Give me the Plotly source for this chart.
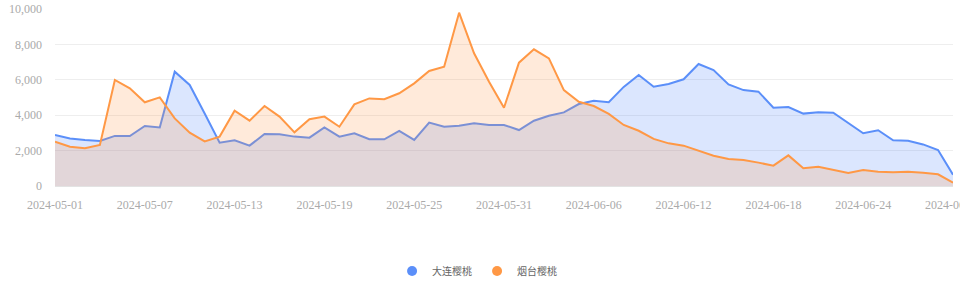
import pandas as pd
import plotly.graph_objects as go

dates = pd.date_range("2024-05-01", "2024-06-30", freq="D").strftime("%Y-%m-%d").tolist()

dalian = [2880, 2690, 2600, 2540, 2830, 2820, 3390, 3310, 6460, 5710,
          4100, 2450, 2580, 2280, 2940, 2920, 2790, 2730, 3310, 2790,
          2980, 2640, 2640, 3110, 2600, 3580, 3350, 3410, 3540, 3450,
          3450, 3160, 3690, 3970, 4160, 4630, 4820, 4730, 5600, 6270,
          5610, 5760, 6030, 6890, 6550, 5740, 5420, 5330, 4420, 4460,
          4090, 4160, 4140, 3540, 2980, 3150, 2580, 2560, 2350, 2030,
          640]

yantai = [2500, 2220, 2130, 2320, 5990, 5520, 4730, 5010, 3820, 3010,
          2520, 2790, 4250, 3690, 4520, 3920, 3030, 3770, 3920, 3350,
          4610, 4950, 4900, 5240, 5800, 6500, 6740, 9790, 7500, 5890,
          4420, 6970, 7720, 7210, 5420, 4760, 4520, 4070, 3450, 3120,
          2660, 2410, 2280, 1990, 1710, 1530, 1470, 1320, 1150, 1730,
          1000, 1090, 900, 730, 900, 810, 770, 800, 750, 660,
          190]

series_names = ["大连樱桃", "烟台樱桃"]
tick_dates = dates[::6]
y_ticks = [0, 2000, 4000, 6000, 8000, 10000]

BLUE = "#5B8FF9"
ORANGE = "#FF9845"

fig = go.Figure()
for name, vals, col, fill in [
    (series_names[0], dalian, BLUE, "rgba(91,143,249,0.22)"),
    (series_names[1], yantai, ORANGE, "rgba(255,152,69,0.2)"),
]:
    fig.add_trace(go.Scatter(
        x=dates, y=vals, mode="lines", name=name,
        line=dict(color=col, width=2),
        fill="tozeroy", fillcolor=fill,
        showlegend=False, hoverinfo="x+y+name",
    ))
for name, col in [(series_names[0], BLUE), (series_names[1], ORANGE)]:
    fig.add_trace(go.Scatter(
        x=[None], y=[None], mode="markers", name=name,
        marker=dict(symbol="circle", size=10, color=col),
    ))

fig.update_layout(
    width=960, height=282,
    margin=dict(l=55, r=7, t=9, b=96, autoexpand=False),
    paper_bgcolor="white", plot_bgcolor="white",
    showlegend=True,
    legend=dict(
        orientation="h", x=0.47, xanchor="center",
        y=-0.48, yanchor="middle",
        font=dict(family="Noto Sans CJK SC", size=10, color="#666"),
        tracegroupgap=0, itemwidth=30,
    ),
    font=dict(family="Liberation Serif", size=12, color="#aaa"),
)
fig.update_xaxes(
    type="date", range=[dates[0], dates[-1]],
    tickvals=tick_dates, ticktext=tick_dates, tickangle=0,
    showgrid=False, showline=True, linecolor="#e3e3e3", linewidth=1,
    ticks="", ticklabelstandoff=8, automargin=False,
    ticklabeloverflow="allow",
    tickfont=dict(family="Liberation Serif", size=12, color="#aaa"),
)
fig.update_yaxes(
    range=[0, 10000], tickvals=y_ticks, tickformat=",",
    showgrid=True, gridcolor="#eeeeee", gridwidth=1,
    zeroline=False, showline=False, ticks="", ticklabelstandoff=12,
    automargin=False,
    tickfont=dict(family="Liberation Serif", size=12, color="#aaa"),
)

fig.write_html("out.html")
